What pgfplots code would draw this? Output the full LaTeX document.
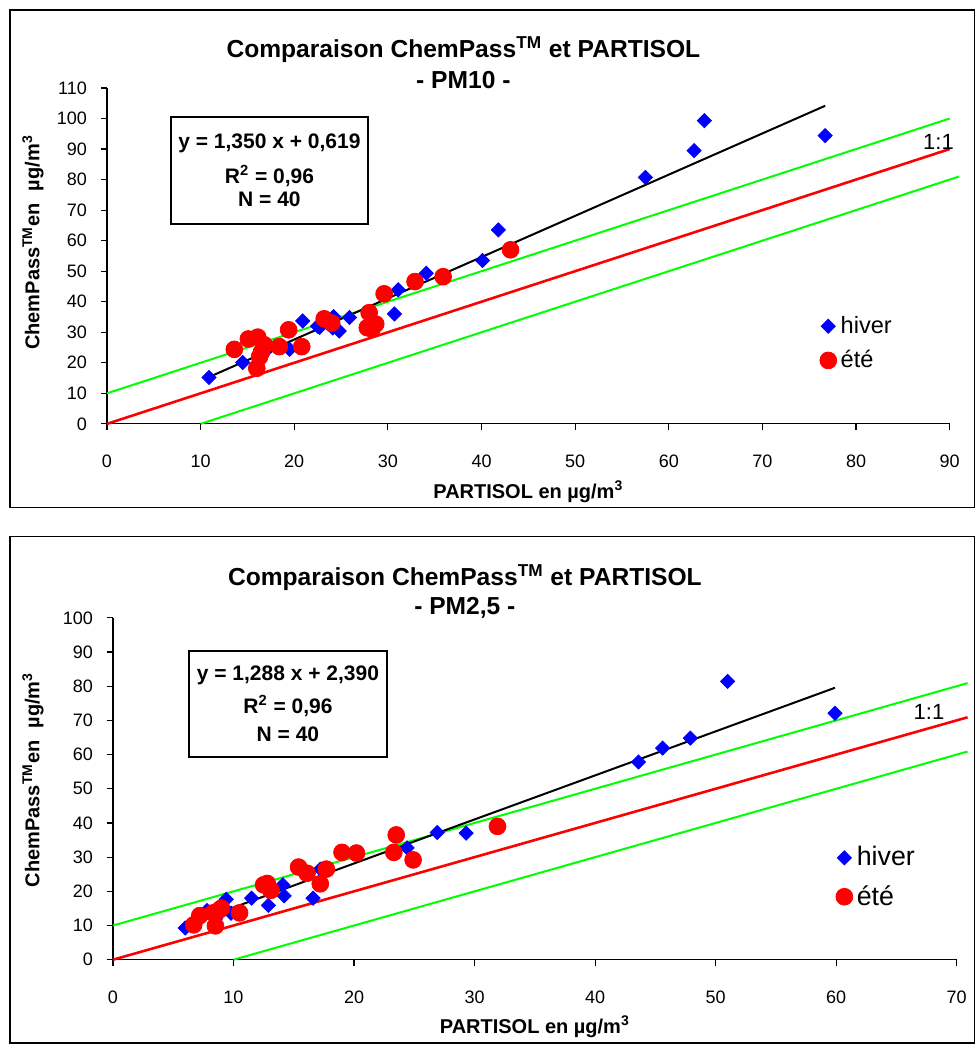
\documentclass[border=0pt]{standalone}
\usepackage{pgfplots}
\pgfplotsset{compat=1.18}
\usepackage{fontspec}
\setmainfont{Liberation Sans}
\definecolor{xlblue}{RGB}{0,0,255}
\definecolor{xlred}{RGB}{255,0,0}
\definecolor{xlgreen}{RGB}{0,255,0}
\pgfplotsset{
  xlbase/.style={
    scale only axis,
    axis lines*=left,
    axis line style={-, black, line width=0.6pt},
    tick align=outside,
    major tick length=3pt,
    tick style={black, line width=0.6pt},
    xtick pos=bottom, ytick pos=left,
    /pgf/number format/assume math mode=true,
    tick label style={font=\fontsize{9}{10.8}\selectfont},
    xticklabel style={yshift=-9pt},
    yticklabel style={xshift=-3.5pt},
    clip=false,
    legend cell align=left,
    xlabel style={font=\bfseries\fontsize{10}{12}\selectfont},
    ylabel style={font=\bfseries\fontsize{10}{12}\selectfont},
  },
  hiver/.style={only marks, mark=square*, mark size=2.5pt,
    mark options={rotate=45, fill=xlblue, draw=xlblue},
    legend image code/.code={\draw[mark repeat=2,mark phase=2,##1] plot coordinates {(0cm,0cm) (0.15cm,0cm) (0.3cm,0cm)};}},
  ete/.style={only marks, mark=*, mark size=4.2pt,
    mark options={fill=xlred, draw=xlred},
    legend image code/.code={\draw[mark repeat=2,mark phase=2,##1] plot coordinates {(0cm,0cm) (0.15cm,0cm) (0.3cm,0cm)};}},
}
\begin{document}
\begin{tikzpicture}
\path (0pt,0pt) rectangle (488pt,522pt);
\draw[line width=0.6pt] (5pt,268pt) rectangle (487.5pt,517pt);
\draw[line width=0.6pt] (5pt,0.3pt) rectangle (487.5pt,253.5pt);
% ---------- top: PM10 ----------
\begin{axis}[xlbase,
  at={(53.5pt,310pt)}, width=421.5pt, height=168pt,
  xmin=0, xmax=90, ymin=0, ymax=110,
  xtick={0,10,...,90}, ytick={0,10,...,110},
  xlabel={PARTISOL en µg/m\textsuperscript{3}},
  xlabel style={at={(axis description cs:0.5,0)}, anchor=center, yshift=-34pt},
  ylabel={ChemPass\textsuperscript{TM}en\hspace{0.6em}µg/m\textsuperscript{3}},
  ylabel style={at={(axis description cs:-0.0878,0.54)}, anchor=center},
  legend style={draw=none, fill=none, at={(0.891,0.2396)}, anchor=center,
    font=\fontsize{11.8}{14}\selectfont, row sep=3pt},
]
\addplot[xlgreen, line width=1pt, forget plot] coordinates {(0,10) (90,100)};
\addplot[xlgreen, line width=1pt, forget plot] coordinates {(10,0) (91,81)};
\addplot[xlred, line width=1.3pt, forget plot] coordinates {(0,0) (90,90)};
\addplot[black, line width=1pt, forget plot] coordinates {(11,15.469) (76.7,104.164)};
\addplot[hiver] coordinates {
 (10.9,15.2) (14.5,20.1) (17.0,24.0) (19.5,24.4) (20.9,33.7) (22.5,32.0) (22.7,31.6)
 (24.1,31.4) (24.2,35.1) (24.8,30.4) (25.9,34.8) (30.7,36.0) (31.1,43.9) (34.1,49.3)
 (40.1,53.5) (41.8,63.5) (57.5,80.7) (62.7,89.5) (63.8,99.3) (76.7,94.4)};
\addlegendentry{hiver}
\addplot[ete] coordinates {
 (13.6,24.4) (15.1,27.8) (16.1,28.4) (16.8,25.9) (16.5,23.5) (16.3,22.0) (16.0,18.2)
 (18.4,25.3) (19.4,30.8) (20.8,25.3) (23.2,34.4) (24.0,33.0) (28.0,36.4) (27.8,31.5)
 (28.3,31.0) (28.7,32.7) (29.6,42.6) (32.9,46.6) (35.9,48.2) (43.1,57.0)};
\addlegendentry{été}
\node[font=\fontsize{11}{13}\selectfont] at (axis cs:88.8,92.3) {1:1};
\end{axis}
% ---------- bottom: PM2,5 ----------
\begin{axis}[xlbase,
  at={(56.5pt,42pt)}, width=422pt, height=171pt,
  xmin=0, xmax=70, ymin=0, ymax=100,
  xtick={0,10,...,70}, ytick={0,10,...,100},
  xlabel={PARTISOL en µg/m\textsuperscript{3}},
  xlabel style={at={(axis description cs:0.5,0)}, anchor=center, yshift=-33.5pt},
  ylabel={ChemPass\textsuperscript{TM}en\hspace{0.6em}µg/m\textsuperscript{3}},
  ylabel style={at={(axis description cs:-0.0948,0.526)}, anchor=center},
  legend style={draw=none, fill=none, at={(0.906,0.241)}, anchor=center,
    font=\fontsize{13.4}{16}\selectfont, row sep=4.2pt},
]
\addplot[xlgreen, line width=1pt, forget plot] coordinates {(0,10) (70.9,80.9)};
\addplot[xlgreen, line width=1pt, forget plot] coordinates {(10,0) (70.9,60.9)};
\addplot[xlred, line width=1.3pt, forget plot] coordinates {(0,0) (70.9,70.9)};
\addplot[black, line width=1pt, forget plot] coordinates {(6,10.118) (59.9,79.541)};
\addplot[hiver] coordinates {
 (6.0,9.3) (7.8,14.4) (8.5,12.0) (9.4,17.7) (9.8,13.6) (11.5,18.0) (12.9,15.9)
 (13.0,21.0) (14.1,21.9) (14.2,18.7) (16.6,18.0) (17.2,26.5) (24.4,32.7) (26.9,37.2)
 (29.3,37.0) (43.6,57.8) (45.6,61.9) (47.9,64.8) (51.0,81.4) (59.9,72.1)};
\addlegendentry{hiver}
\addplot[ete] coordinates {
 (6.7,10.2) (7.2,12.9) (8.3,13.7) (8.5,9.9) (8.8,14.5) (9.0,15.1) (10.5,13.7)
 (12.5,21.9) (12.8,22.3) (13.1,20.3) (15.4,27.1) (16.1,25.3) (17.2,22.2) (17.7,26.5)
 (19.0,31.4) (20.2,31.2) (23.3,31.4) (23.5,36.5) (24.9,29.2) (31.9,39.0)};
\addlegendentry{été}
\node[font=\fontsize{11}{13}\selectfont] at (axis cs:67.7,72.5) {1:1};
\end{axis}
% titles
\node[font=\bfseries\fontsize{12.3}{14}\selectfont] at (231.75pt,497pt) {Comparaison ChemPass\textsuperscript{TM} et PARTISOL};
\node[font=\bfseries\fontsize{12.3}{14}\selectfont] at (231.75pt,482pt) {- PM10 -};
\node[font=\bfseries\fontsize{12.3}{14}\selectfont] at (232.5pt,233pt) {Comparaison ChemPass\textsuperscript{TM} et PARTISOL};
\node[font=\bfseries\fontsize{12.3}{14}\selectfont] at (232.5pt,218pt) {- PM2,5 -};
% equation boxes
\node[draw, line width=1.2pt, fill=white, minimum width=98.5pt, minimum height=53.5pt,
  align=center, font=\bfseries\fontsize{10.5}{12.6}\selectfont] at (134.75pt,436.75pt)
  {y = 1,350 x + 0,619\\[4.9pt]R\textsuperscript{2} = 0,96\\[-1.3pt]N = 40};
\node[draw, line width=1.2pt, fill=white, minimum width=99pt, minimum height=53pt,
  align=center, font=\bfseries\fontsize{10.5}{12.6}\selectfont] at (144pt,170pt)
  {y = 1,288 x + 2,390\\[3.9pt]R\textsuperscript{2} = 0,96\\[1.4pt]N = 40};
\end{tikzpicture}
\end{document}
